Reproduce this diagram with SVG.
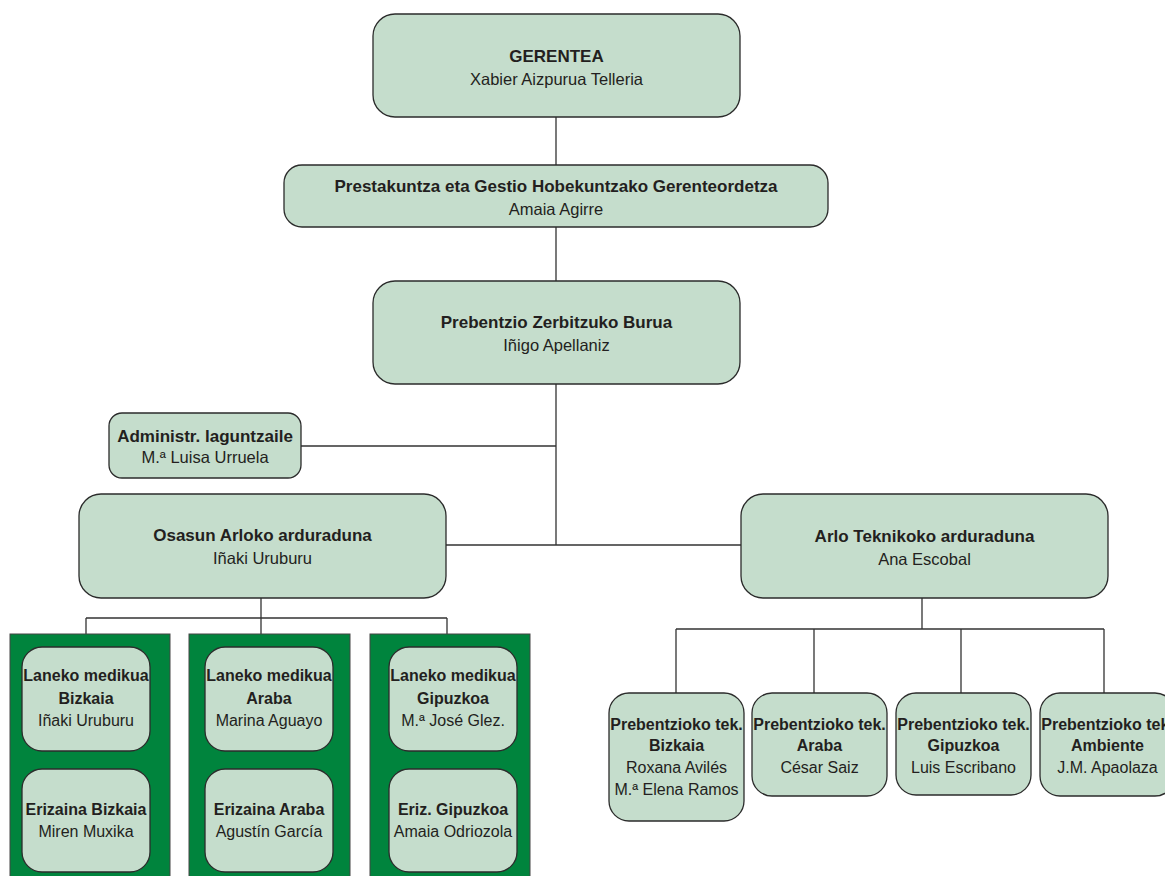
<svg xmlns="http://www.w3.org/2000/svg" width="1165" height="876" viewBox="0 0 1165 876">
<style>
.box{fill:#c5ddcc;stroke:#2b2b2b;stroke-width:1.3}
.col{fill:#00843d;stroke:#444;stroke-width:1}
.ln{fill:none;stroke:#333;stroke-width:1.3}
text{font-family:"Liberation Sans",Arial,sans-serif;fill:#231f20;text-anchor:middle}
.b{font-weight:bold;font-size:17px}
.r{font-size:16.5px}
.sb{font-weight:bold;font-size:16px}
.sr{font-size:16px}
</style>
<rect width="1165" height="876" fill="#ffffff"/>
<g id="connectors">
<path class="ln" d="M556 117V165M556 227V281M556 384V545M301 446H556M446 545H741"/>
<path class="ln" d="M922 598V629M676 629H1104M676 629V693M814 629V693M961 629V693M1104 629V693"/>
<path class="ln" d="M261 598V618M86 618H447M86 618V634M261 618V634M447 618V634"/>
</g>
<g id="gerentea">
<rect class="box" x="373" y="14" width="367" height="103" rx="22"/>
<text class="b" x="556.5" y="62">GERENTEA</text>
<text class="r" x="556.5" y="85">Xabier Aizpurua Telleria</text>
</g>
<g id="prestakuntza">
<rect class="box" x="284" y="165" width="544" height="62" rx="18"/>
<text class="b" x="556" y="192">Prestakuntza eta Gestio Hobekuntzako Gerenteordetza</text>
<text class="r" x="556" y="215">Amaia Agirre</text>
</g>
<g id="burua">
<rect class="box" x="373" y="281" width="367" height="103" rx="22"/>
<text class="b" x="556.5" y="328">Prebentzio Zerbitzuko Burua</text>
<text class="r" x="556.5" y="351">Iñigo Apellaniz</text>
</g>
<g id="administr">
<rect class="box" x="109" y="413" width="192" height="65" rx="13"/>
<text class="b" x="205" y="442">Administr. laguntzaile</text>
<text class="r" x="205" y="463">M.ª Luisa Urruela</text>
</g>
<g id="osasun">
<rect class="box" x="79" y="494" width="367" height="104" rx="22"/>
<text class="b" x="262.5" y="541">Osasun Arloko arduraduna</text>
<text class="r" x="262.5" y="564">Iñaki Uruburu</text>
</g>
<g id="arlo-teknikoko">
<rect class="box" x="741" y="494" width="367" height="104" rx="22"/>
<text class="b" x="924.5" y="542">Arlo Teknikoko arduraduna</text>
<text class="r" x="924.5" y="565">Ana Escobal</text>
</g>
<g id="col-bizkaia">
<rect class="col" x="10" y="634" width="160" height="250"/>
</g>
<g id="col-araba">
<rect class="col" x="189" y="634" width="161" height="250"/>
</g>
<g id="col-gipuzkoa">
<rect class="col" x="370" y="634" width="160" height="250"/>
</g>
<g id="medikua-bizkaia">
<rect class="box" x="22" y="647" width="128" height="104" rx="20"/>
<text class="sb" x="86" y="681">Laneko medikua</text>
<text class="sb" x="86" y="704">Bizkaia</text>
<text class="sr" x="86" y="726">Iñaki Uruburu</text>
</g>
<g id="erizaina-bizkaia">
<rect class="box" x="22" y="769" width="128" height="103" rx="20"/>
<text class="sb" x="86" y="815">Erizaina Bizkaia</text>
<text class="sr" x="86" y="837">Miren Muxika</text>
</g>
<g id="medikua-araba">
<rect class="box" x="205" y="647" width="128" height="104" rx="20"/>
<text class="sb" x="269" y="681">Laneko medikua</text>
<text class="sb" x="269" y="704">Araba</text>
<text class="sr" x="269" y="726">Marina Aguayo</text>
</g>
<g id="erizaina-araba">
<rect class="box" x="205" y="769" width="128" height="103" rx="20"/>
<text class="sb" x="269" y="815">Erizaina Araba</text>
<text class="sr" x="269" y="837">Agustín García</text>
</g>
<g id="medikua-gipuzkoa">
<rect class="box" x="389" y="647" width="128" height="104" rx="20"/>
<text class="sb" x="453" y="681">Laneko medikua</text>
<text class="sb" x="453" y="704">Gipuzkoa</text>
<text class="sr" x="453" y="726">M.ª José Glez.</text>
</g>
<g id="erizaina-gipuzkoa">
<rect class="box" x="389" y="769" width="128" height="103" rx="20"/>
<text class="sb" x="453" y="815">Eriz. Gipuzkoa</text>
<text class="sr" x="453" y="837">Amaia Odriozola</text>
</g>
<g id="tek-bizkaia">
<rect class="box" x="609" y="693" width="135" height="128" rx="20"/>
<text class="sb" x="676.5" y="730">Prebentzioko tek.</text>
<text class="sb" x="676.5" y="751">Bizkaia</text>
<text class="sr" x="676.5" y="773">Roxana Avilés</text>
<text class="sr" x="676.5" y="795">M.ª Elena Ramos</text>
</g>
<g id="tek-araba">
<rect class="box" x="752" y="693" width="135" height="103" rx="20"/>
<text class="sb" x="819.5" y="730">Prebentzioko tek.</text>
<text class="sb" x="819.5" y="751">Araba</text>
<text class="sr" x="819.5" y="773">César Saiz</text>
</g>
<g id="tek-gipuzkoa">
<rect class="box" x="896" y="693" width="135" height="102" rx="20"/>
<text class="sb" x="963.5" y="730">Prebentzioko tek.</text>
<text class="sb" x="963.5" y="751">Gipuzkoa</text>
<text class="sr" x="963.5" y="773">Luis Escribano</text>
</g>
<g id="tek-ambiente">
<rect class="box" x="1040" y="693" width="135" height="103" rx="20"/>
<text class="sb" x="1107.5" y="730">Prebentzioko tek.</text>
<text class="sb" x="1107.5" y="751">Ambiente</text>
<text class="sr" x="1107.5" y="773">J.M. Apaolaza</text>
</g>
</svg>
